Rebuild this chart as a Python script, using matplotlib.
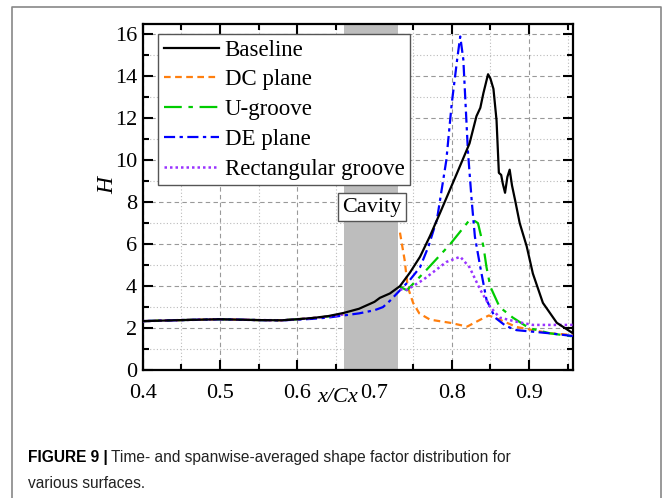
import numpy as np
import matplotlib
matplotlib.use("Agg")
import matplotlib.pyplot as plt
from matplotlib.lines import Line2D
from matplotlib.ticker import MultipleLocator

nan = np.nan

# ---------------- data ----------------
base_x = [0.40, 0.45, 0.50, 0.55, 0.58, 0.60, 0.62, 0.64, 0.66, 0.68, 0.70, 0.707, 0.72, 0.733,
          0.746, 0.759, 0.772, 0.785, 0.796, 0.807, 0.815, 0.823, 0.832, 0.837, 0.841, 0.845,
          0.847, 0.850, 0.854, 0.858, 0.861, 0.864, 0.866, 0.869, 0.872, 0.875, 0.878,
          0.882, 0.888, 0.897, 0.905, 0.918, 0.936, 0.957]
base_y = [2.33, 2.38, 2.42, 2.38, 2.37, 2.42, 2.48, 2.57, 2.72, 2.92, 3.25, 3.44, 3.65, 4.0,
          4.65, 5.4, 6.4, 7.5, 8.45, 9.4, 10.1, 10.8, 12.1, 12.5, 13.2, 13.8,
          14.1, 13.9, 13.4, 11.9, 9.4, 9.3, 8.9, 8.45, 9.2, 9.55, 8.8,
          8.1, 7.0, 5.9, 4.6, 3.2, 2.25, 1.75]

dc_x = [0.40, 0.45, 0.50, 0.55, 0.58, 0.60, 0.62, 0.64, 0.66, nan,
        0.733, 0.739, 0.743, 0.750, 0.758, 0.772, 0.798, 0.820, 0.837, 0.848, 0.862,
        0.884, 0.927, 0.957]
dc_y = [2.33, 2.38, 2.42, 2.38, 2.37, 2.42, 2.48, 2.55, 2.65, nan,
        6.55, 5.25, 3.97, 3.2, 2.7, 2.4, 2.25, 2.07, 2.4, 2.6, 2.4,
        2.05, 1.75, 1.67]

ug_x = [0.40, 0.45, 0.50, 0.55, 0.58, 0.60, 0.62, 0.64, 0.66, nan,
        0.733, 0.742, 0.768, 0.798, 0.823, 0.830, 0.834, 0.841, 0.845, 0.850,
        0.862, 0.879, 0.900, 0.927, 0.957]
ug_y = [2.33, 2.38, 2.42, 2.38, 2.37, 2.42, 2.48, 2.55, 2.65, nan,
        3.97, 3.8, 4.8, 6.0, 7.15, 7.1, 7.0, 5.9, 4.9, 3.97,
        3.0, 2.5, 2.0, 1.75, 1.6]

de_x = [0.40, 0.45, 0.50, 0.55, 0.58, 0.60, 0.62, 0.64, 0.66, 0.68, 0.70, 0.711, 0.72, 0.733,
        0.746, 0.759, 0.770, 0.781, 0.793, 0.800, 0.807, 0.811, 0.815, 0.821, 0.826, 0.830,
        0.837, 0.845, 0.856, 0.870, 0.884, 0.927, 0.957]
de_y = [2.33, 2.38, 2.42, 2.38, 2.37, 2.4, 2.44, 2.5, 2.6, 2.7, 2.85, 3.0, 3.3, 3.8,
        4.3, 4.9, 5.9, 7.2, 10.0, 12.7, 14.8, 15.9, 14.8, 10.4, 8.0, 6.35,
        4.9, 3.35, 2.5, 2.1, 1.9, 1.75, 1.62]

rg_x = [0.40, 0.45, 0.50, 0.55, 0.58, 0.60, 0.62, 0.64, 0.66, nan,
        0.733, 0.742, 0.763, 0.793, 0.811, 0.823, 0.837, 0.850, 0.862,
        0.884, 0.905, 0.957]
rg_y = [2.33, 2.38, 2.42, 2.38, 2.37, 2.42, 2.48, 2.55, 2.65, nan,
        3.85, 3.82, 4.3, 5.15, 5.4, 4.9, 3.82, 3.0, 2.5,
        2.3, 2.15, 2.15]

labels = ["Baseline", "DC plane", "U-groove", "DE plane", "Rectangular groove"]
cavity = (0.66, 0.73)
x_ticks = [0.4, 0.5, 0.6, 0.7, 0.8, 0.9]
y_ticks = [0, 2, 4, 6, 8, 10, 12, 14, 16]

# ---------------- figure ----------------
serif = ["Liberation Serif", "DejaVu Serif"]
plt.rcParams["font.family"] = serif

fig = plt.figure(figsize=(6.64, 4.98), dpi=100)
ax = fig.add_axes([0.2149, 0.257, 0.863 - 0.2149, 0.952 - 0.257])

ax.axvspan(cavity[0], cavity[1], color="#bdbdbd", zorder=1, lw=0)

lw = 1.6
ax.plot(base_x, base_y, color="black", lw=lw, label=labels[0], zorder=5)
ax.plot(dc_x, dc_y, color="#ff7f0e", lw=lw, ls=(0, (3, 2)), label=labels[1], zorder=4)
ax.plot(ug_x, ug_y, color="#00cc00", lw=lw, ls=(0, (8, 3, 2, 3)), label=labels[2], zorder=4)
ax.plot(de_x, de_y, color="#0000ff", lw=lw, ls=(0, (5, 2, 1.5, 2)), label=labels[3], zorder=4)
ax.plot(rg_x, rg_y, color="#9933ff", lw=1.8, ls=(0, (1, 1.2)), label=labels[4], zorder=4)

ax.set_xlim(0.4, 0.957)
ax.set_ylim(0, 16.5)
ax.set_xticks(x_ticks)
ax.set_xticklabels([f"{v:.1f}" for v in x_ticks])
ax.set_yticks(y_ticks)
ax.set_yticklabels([str(v) for v in y_ticks])
ax.xaxis.set_minor_locator(MultipleLocator(0.05))
ax.yaxis.set_minor_locator(MultipleLocator(1))

ax.grid(which="major", color="#999999", ls=(0, (4, 3)), lw=0.8, zorder=0)
ax.grid(which="minor", color="#bbbbbb", ls=(0, (1, 2)), lw=0.8, zorder=0)
ax.set_axisbelow(True)

ax.tick_params(which="both", direction="in", top=True, right=True, width=1.5,
               labelsize=16)
ax.tick_params(which="major", length=7)
ax.tick_params(which="minor", length=4)
ax.tick_params(axis="x", pad=10)
ax.tick_params(axis="y", pad=4)
for s in ax.spines.values():
    s.set_linewidth(1.6)

leg = ax.legend(loc="upper left", bbox_to_anchor=(0.036, 0.971), borderaxespad=0,
                fontsize=16.5, handlelength=2.4, handletextpad=0.25, labelspacing=0.38,
                borderpad=0.25, fancybox=False, framealpha=1, edgecolor="#555555")
leg.get_frame().set_linewidth(1.0)
leg.set_zorder(10)

ax.text(0.697, 7.76, "Cavity", ha="center", va="center", fontsize=16, zorder=11,
        bbox=dict(boxstyle="square,pad=0.2", fc="white", ec="#555555", lw=1.0))

fig.text(108 / 664, 1 - 185 / 498, "H", rotation=90, ha="center", va="center",
         fontsize=17, style="italic")
fig.text(338 / 664, 1 - 398 / 498, "x/Cx", ha="center", va="center",
         fontsize=16, style="italic")

# outer frame of the figure panel
frame = Line2D([12 / 664, 12 / 664, 660.5 / 664, 660.5 / 664],
               [0, 1 - 7 / 498, 1 - 7 / 498, 0], transform=fig.transFigure,
               color="#888888", lw=1.2)
fig.add_artist(frame)

cap_font = ["Liberation Sans", "DejaVu Sans"]
cap_size = 11.2
t_bold = fig.text(28 / 664, 1 - 457 / 498, "FIGURE 9 |", fontsize=cap_size,
                  fontweight="bold", family=cap_font, va="center", ha="left")
renderer = fig.canvas.get_renderer()
bb = t_bold.get_window_extent(renderer=renderer)
fig.text((bb.x1 + 3) / 664, 1 - 457 / 498,
         "Time- and spanwise-averaged shape factor distribution for",
         fontsize=cap_size, family=cap_font, va="center", ha="left", color="#222222")
fig.text(28 / 664, 1 - 483 / 498, "various surfaces.", fontsize=cap_size,
         family=cap_font, va="center", ha="left", color="#222222")

fig.savefig("out.png", dpi=100)
